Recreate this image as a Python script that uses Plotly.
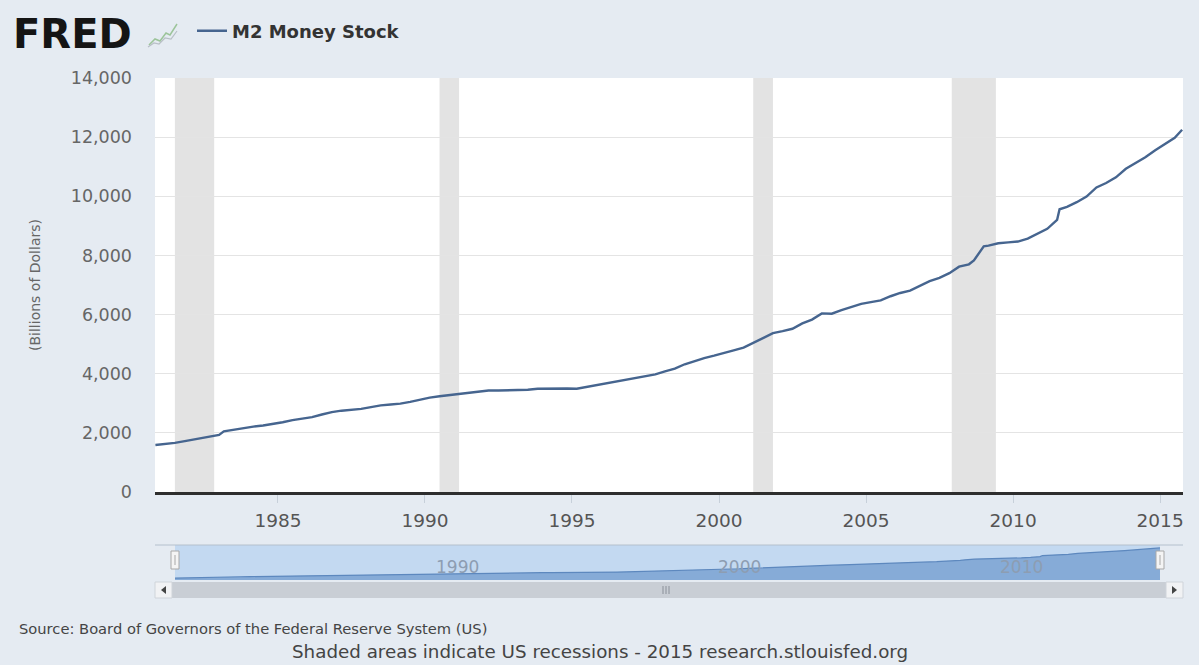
import plotly.graph_objects as go

# M2 money stock, billions of dollars
dates = [
    "1980-11-01", "1981-03-01", "1981-07-01", "1981-11-01", "1982-03-01", "1982-07-01",
    "1982-11-01", "1983-01-01", "1983-03-01", "1983-07-01", "1983-11-01", "1984-03-01",
    "1984-07-01", "1984-11-01", "1985-03-01", "1985-07-01", "1985-11-01", "1986-03-01",
    "1986-07-01", "1986-11-01", "1987-03-01", "1987-07-01", "1987-11-01", "1988-03-01",
    "1988-07-01", "1988-11-01", "1989-03-01", "1989-07-01", "1989-11-01", "1990-03-01",
    "1990-07-01", "1990-11-01", "1991-03-01", "1991-07-01", "1991-11-01", "1992-03-01",
    "1992-07-01", "1992-11-01", "1993-03-01", "1993-07-01", "1993-11-01", "1994-03-01",
    "1994-07-01", "1994-11-01", "1995-03-01", "1995-07-01", "1995-11-01", "1996-03-01",
    "1996-07-01", "1996-11-01", "1997-03-01", "1997-07-01", "1997-11-01", "1998-03-01",
    "1998-07-01", "1998-11-01", "1999-03-01", "1999-07-01", "1999-11-01", "2000-03-01",
    "2000-07-01", "2000-11-01", "2001-03-01", "2001-07-01", "2001-11-01", "2002-03-01",
    "2002-07-01", "2002-11-01", "2003-03-01", "2003-07-01", "2003-11-01", "2004-03-01",
    "2004-07-01", "2004-11-01", "2005-03-01", "2005-07-01", "2005-11-01", "2006-03-01",
    "2006-07-01", "2006-11-01", "2007-03-01", "2007-07-01", "2007-11-01", "2008-03-01",
    "2008-07-01", "2008-09-01", "2008-11-01", "2009-01-01", "2009-03-01", "2009-07-01",
    "2009-11-01", "2010-03-01", "2010-07-01", "2010-11-01", "2011-03-01", "2011-07-01",
    "2011-08-01", "2011-11-01", "2012-03-01", "2012-07-01", "2012-11-01", "2013-03-01",
    "2013-07-01", "2013-11-01", "2014-03-01", "2014-07-01", "2014-11-01", "2015-03-01",
    "2015-07-01", "2015-10-01",
]
m2 = [
    1590, 1620, 1660, 1720, 1780, 1830,
    1890, 1930, 2050, 2110, 2160, 2210,
    2250, 2300, 2360, 2430, 2480, 2530,
    2620, 2700, 2750, 2770, 2810, 2870,
    2930, 2960, 2990, 3050, 3130, 3190,
    3240, 3280, 3330, 3370, 3400, 3430,
    3430, 3440, 3430, 3460, 3490, 3500,
    3500, 3500, 3490, 3550, 3600, 3670,
    3720, 3780, 3850, 3900, 3980, 4080,
    4170, 4320, 4430, 4530, 4610, 4710,
    4790, 4880, 5040, 5190, 5370, 5440,
    5520, 5700, 5830, 6040, 6030, 6150,
    6260, 6360, 6420, 6480, 6620, 6730,
    6810, 6980, 7130, 7240, 7400, 7620,
    7700, 7830, 8060, 8310, 8330, 8410,
    8440, 8470, 8570, 8740, 8900, 9200,
    9560, 9640, 9800, 9990, 10300, 10450,
    10640, 10930, 11130, 11320, 11560, 11760,
    11980, 12250,
]

# NBER recessions
rec_start = ["1981-07-01", "1990-07-01", "2001-03-01", "2007-12-01"]
rec_end = ["1982-11-01", "1991-03-01", "2001-11-01", "2009-06-01"]

y_ticks = [0, 2000, 4000, 6000, 8000, 10000, 12000, 14000]
nav_labels = ["1990", "2000", "2010"]

W, H = 1199, 665
L, R, T, B = 155, 16, 78, 67
PW, PH = W - L - R, H - T - B


def px(x):
    return (x - L) / PW


def py(y):
    return (H - B - y) / PH


LINE = "#46658f"
PAPER = "#e5ebf2"

fig = go.Figure()

fig.add_trace(go.Scatter(
    x=dates, y=m2, mode="lines", name="M2 Money Stock",
    line=dict(color=LINE, width=2.4), xaxis="x", yaxis="y",
))

# navigator series
fig.add_trace(go.Scatter(
    x=dates, y=m2, mode="lines", fill="tozeroy", showlegend=False,
    line=dict(color="#5d88be", width=1.2), fillcolor="#86abd7",
    xaxis="x2", yaxis="y2", hoverinfo="skip",
))

shapes = []
for s, e in zip(rec_start, rec_end):
    shapes.append(dict(type="rect", xref="x", yref="y domain", x0=s, x1=e, y0=0, y1=1,
                       fillcolor="#e3e3e3", line=dict(width=0), layer="below"))

# navigator mask + outline
shapes.append(dict(type="rect", xref="x2 domain", yref="y2 domain", x0=0, x1=1, y0=0, y1=1,
                   fillcolor="#c3d9f1", line=dict(width=0), layer="below"))
shapes.append(dict(type="line", xref="paper", yref="paper", x0=0, x1=1, y0=py(545), y1=py(545),
                   line=dict(color="#b4c0cd", width=1)))
# navigator handles
for hx in (175, 1160):
    shapes.append(dict(type="rect", xref="paper", yref="paper",
                       x0=px(hx - 4), x1=px(hx + 4), y0=py(569), y1=py(551),
                       fillcolor="#f4f4f4", line=dict(color="#a8a8a8", width=1)))
    shapes.append(dict(type="line", xref="paper", yref="paper",
                       x0=px(hx), x1=px(hx), y0=py(565), y1=py(555),
                       line=dict(color="#a8a8a8", width=1)))
# scrollbar
shapes.append(dict(type="rect", xref="paper", yref="paper", x0=0, x1=1, y0=py(598), y1=py(582),
                   fillcolor="#c9ced5", line=dict(width=0)))
for bx0, bx1 in ((155, 172), (1166, 1183)):
    shapes.append(dict(type="rect", xref="paper", yref="paper",
                       x0=px(bx0), x1=px(bx1), y0=py(598), y1=py(582),
                       fillcolor="#f1f2f4", line=dict(color="#cfd4da", width=1)))
shapes.append(dict(type="path", xref="paper", yref="paper",
                   path=f"M {px(166)},{py(586)} L {px(166)},{py(594)} L {px(161)},{py(590)} Z",
                   fillcolor="#444", line=dict(width=0)))
shapes.append(dict(type="path", xref="paper", yref="paper",
                   path=f"M {px(1172)},{py(586)} L {px(1172)},{py(594)} L {px(1177)},{py(590)} Z",
                   fillcolor="#444", line=dict(width=0)))
for gx in (663, 666, 669):
    shapes.append(dict(type="line", xref="paper", yref="paper",
                       x0=px(gx), x1=px(gx), y0=py(594), y1=py(586),
                       line=dict(color="#8a9099", width=1)))

# little FRED logo graph
shapes.append(dict(type="path", xref="paper", yref="paper",
                   path=(f"M {px(149)},{py(45)} L {px(155)},{py(39)} L {px(160)},{py(41)} "
                         f"L {px(166)},{py(33)} L {px(170)},{py(35)} L {px(177)},{py(24)}"),
                   line=dict(color="#9cc49a", width=1.5)))
shapes.append(dict(type="path", xref="paper", yref="paper",
                   path=(f"M {px(148)},{py(47)} L {px(154)},{py(43)} L {px(159)},{py(44)} "
                         f"L {px(165)},{py(38)} L {px(171)},{py(39)} L {px(177)},{py(31)}"),
                   line=dict(color="#b8bfc6", width=1.2)))

annotations = [
    dict(text="<b>FRED</b>", xref="paper", yref="paper", x=px(11), y=py(34),
         xanchor="left", yanchor="middle", showarrow=False,
         font=dict(family="DejaVu Sans", size=40, color="#151515")),
    dict(text="Source: Board of Governors of the Federal Reserve System (US)",
         xref="paper", yref="paper", x=px(17), y=py(628), xanchor="left", yanchor="middle",
         showarrow=False, font=dict(family="DejaVu Sans", size=14.7, color="#444")),
    dict(text="Shaded areas indicate US recessions - 2015 research.stlouisfed.org",
         xref="paper", yref="paper", x=px(600), y=py(651), xanchor="center", yanchor="middle",
         showarrow=False, font=dict(family="DejaVu Sans", size=18.3, color="#444")),
]
for lab in nav_labels:
    annotations.append(dict(text=lab, xref="x2", yref="y2 domain", x=f"{lab}-01-01", y=0.37,
                            xanchor="left", yanchor="middle", showarrow=False,
                            font=dict(family="DejaVu Sans", size=17, color="#8d9db2")))

fig.update_layout(
    width=W, height=H,
    margin=dict(l=L, r=R, t=T, b=B, autoexpand=False),
    paper_bgcolor=PAPER, plot_bgcolor="white",
    showlegend=True,
    legend=dict(x=px(192), y=py(31), xanchor="left", yanchor="middle", orientation="h",
                bgcolor="rgba(0,0,0,0)", itemwidth=30,
                font=dict(family="DejaVu Sans", size=18, color="#333", weight="bold")),
    xaxis=dict(
        domain=[0, 1], anchor="y", type="date",
        range=["1980-10-27", "2015-10-12"],
        tick0="1985-01-01", dtick="M60", tickformat="%Y",
        ticks="outside", ticklen=8, tickcolor="#c7d0da", ticklabelstandoff=2,
        showgrid=False, zeroline=False,
        showline=True, linecolor="#2e2e2e", linewidth=3,
        tickfont=dict(family="DejaVu Sans", size=18.5, color="#555"),
    ),
    yaxis=dict(
        domain=[py(492), 1], anchor="x",
        range=[0, 14000], tickvals=y_ticks, tickformat=",",
        showgrid=True, gridcolor="#e4e4e4", gridwidth=1, zeroline=False,
        ticklabelstandoff=22,
        tickfont=dict(family="DejaVu Sans", size=17.5, color="#666"),
        title=dict(text="(Billions of Dollars)", standoff=26,
                   font=dict(family="DejaVu Sans", size=14, color="#666")),
    ),
    xaxis2=dict(
        domain=[px(175), px(1160)], anchor="y2", type="date",
        range=[dates[0], dates[-1]],
        showticklabels=False, showgrid=False, zeroline=False, ticks="",
    ),
    yaxis2=dict(
        domain=[py(580), py(545)], anchor="x2", range=[900, 13300],
        showticklabels=False, showgrid=False, zeroline=False, ticks="",
    ),
    shapes=shapes, annotations=annotations,
)

fig.write_html(
    "out.html",
    config={"displayModeBar": False},
    post_script="document.body.style.margin='0';document.body.style.background='%s';" % PAPER,
)
